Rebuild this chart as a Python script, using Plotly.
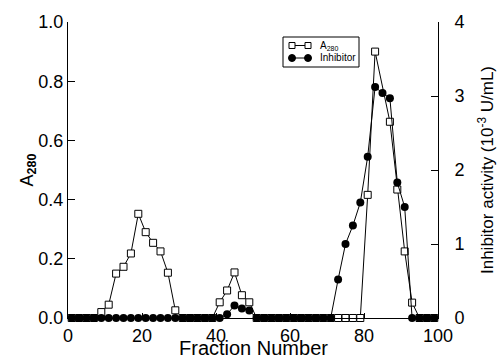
import plotly.graph_objects as go

# Fractions (odd-numbered fractions 1..99)
fractions = list(range(1, 100, 2))

# A280 (left axis); fraction 85 hidden under the inhibitor marker in the original
a280 = [0, 0, 0, 0, 0.02, 0.045, 0.15, 0.173, 0.218, 0.352,
        0.29, 0.254, 0.225, 0.153, 0.026, 0, 0, 0, 0, 0,
        0.053, 0.093, 0.154, 0.077, 0.053, 0, 0, 0, 0, 0,
        0, 0, 0, 0, 0, 0, 0, 0, 0, 0,
        0.416, 0.90, None, 0.663, 0.434, 0.225, 0.052, 0, 0, 0]

# Inhibitor activity (right axis, 10^-3 U/mL)
inhibitor = [0, 0, 0, 0, 0, 0, 0, 0, 0, 0,
             0, 0, 0, 0, 0, 0, 0, 0, 0, 0,
             0, 0.05, 0.17, 0.13, 0.10, 0, 0, 0, 0, 0,
             0, 0, 0, 0, 0, 0, 0.52, 1.0, 1.25, 1.56,
             2.18, 3.12, 3.04, 2.97, 1.83, 1.50, 0, 0, 0, 0]

x_ticks = [0, 20, 40, 60, 80, 100]
y_ticks = [0.0, 0.2, 0.4, 0.6, 0.8, 1.0]
y2_ticks = [0, 1, 2, 3, 4]

series_names = ["A<sub>280</sub>", "Inhibitor"]
x_title = "Fraction Number"

FONT = "Arial, 'Liberation Sans', sans-serif"

fig = go.Figure()
fig.add_trace(go.Scatter(
    x=fractions, y=a280, name=series_names[0], mode="lines+markers",
    line=dict(color="black", width=1), connectgaps=True,
    marker=dict(symbol="square", size=7, color="white", line=dict(color="black", width=1)),
    cliponaxis=False, yaxis="y", showlegend=False))
fig.add_trace(go.Scatter(
    x=fractions, y=inhibitor, name=series_names[1], mode="lines+markers",
    line=dict(color="black", width=1),
    marker=dict(symbol="circle", size=8, color="black"),
    cliponaxis=False, yaxis="y2", showlegend=False))

# plot area: x 68..438 px, y 22..318 px
def px(xp):
    return (xp - 68) / 370.0

def py(yp):
    return (318 - yp) / 296.0

shapes = []
annotations = []
# ---- custom legend (box with marker-line-marker glyphs) ----
shapes.append(dict(type="rect", xref="paper", yref="paper",
                   x0=px(283), x1=px(359), y0=py(67), y1=py(37),
                   line=dict(color="black", width=1), fillcolor="white", layer="above"))
rows_y = [py(45.5), py(58)]
sym_x = [px(292), px(308)]
for i, ry in enumerate(rows_y):
    shapes.append(dict(type="line", xref="paper", yref="paper",
                       x0=sym_x[0], x1=sym_x[1], y0=ry, y1=ry,
                       line=dict(color="black", width=1)))
    for sx in sym_x:
        if i == 0:
            shapes.append(dict(type="rect", xref="paper", yref="paper",
                               xsizemode="pixel", ysizemode="pixel",
                               xanchor=sx, yanchor=ry, x0=-3, x1=3, y0=-3, y1=3,
                               line=dict(color="black", width=1), fillcolor="white"))
        else:
            shapes.append(dict(type="circle", xref="paper", yref="paper",
                               xsizemode="pixel", ysizemode="pixel",
                               xanchor=sx, yanchor=ry, x0=-3.5, x1=3.5, y0=-3.5, y1=3.5,
                               line=dict(color="black", width=1), fillcolor="black"))
    annotations.append(dict(text=series_names[i], xref="paper", yref="paper",
                            x=px(318), y=ry, xanchor="left", yanchor="middle",
                            showarrow=False, font=dict(size=10, family=FONT)))

# x-axis title placed as annotation (as low as in the original)
annotations.append(dict(text=x_title, xref="paper", yref="paper",
                        x=0.5, y=py(361), xanchor="center", yanchor="bottom",
                        showarrow=False, font=dict(size=20, family=FONT)))

fig.update_layout(
    width=497, height=360,
    margin=dict(l=68, r=59, t=22, b=42),
    paper_bgcolor="white", plot_bgcolor="white",
    font=dict(family=FONT, color="black"),
    showlegend=False,
    shapes=shapes, annotations=annotations,
    xaxis=dict(range=[0, 100], tickvals=x_ticks, ticks="inside", ticklen=5,
               tickcolor="black", showline=True, linecolor="black", linewidth=1,
               showgrid=False, zeroline=False, tickfont=dict(size=18),
               ticklabelstandoff=1, automargin=False),
    yaxis=dict(range=[0, 1], tickvals=y_ticks, tickformat=".1f", ticks="inside",
               ticklen=7, tickcolor="black", showline=True, linecolor="black",
               linewidth=1, showgrid=False, zeroline=False, tickfont=dict(size=18),
               title=dict(text="A<sub><b>280</b></sub>", font=dict(size=18), standoff=0),
               automargin=False),
    yaxis2=dict(range=[0, 4], tickvals=y2_ticks, overlaying="y", side="right",
                ticks="inside", ticklen=7, tickcolor="black", showline=True,
                linecolor="black", linewidth=1, showgrid=False, zeroline=False,
                tickfont=dict(size=18), ticklabelstandoff=12,
                title=dict(text="Inhibitor activity (10<sup>-3</sup> U/mL)",
                           font=dict(size=17), standoff=18),
                automargin=False),
)

fig.write_html("out.html")
